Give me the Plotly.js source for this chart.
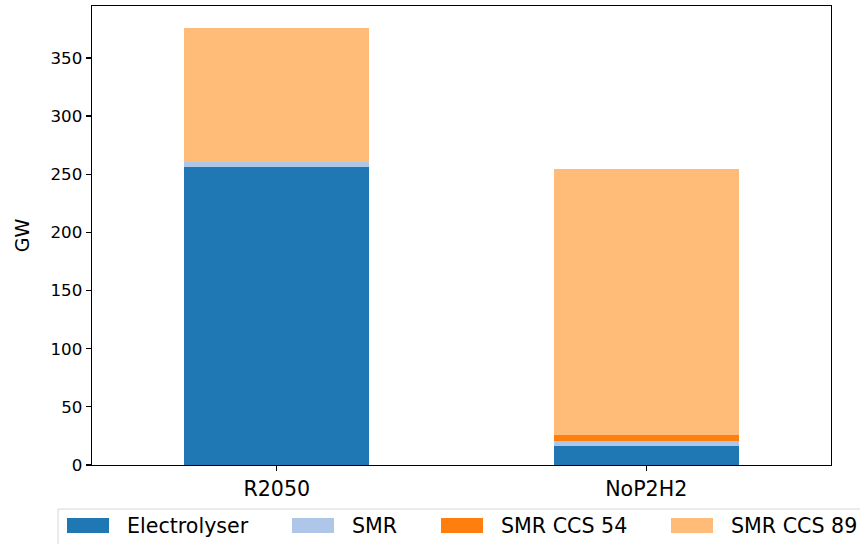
<!DOCTYPE html>
<html>
<head>
<meta charset="utf-8">
<script src="https://cdn.plot.ly/plotly-3.0.1.min.js"></script>
<style>
html,body{margin:0;padding:0;background:#fff;}
#chart{width:860px;height:544px;}
</style>
</head>
<body>
<div id="chart"></div>
<script>
// ---- data ----
const scenarios = ["R2050", "NoP2H2"];
const seriesNames = ["Electrolyser", "SMR", "SMR CCS 54", "SMR CCS 89"];
const electrolyser = [256.0, 16.6];
const smr = [4.8, 4.0];
const smrCcs54 = [0.0, 4.9];
const smrCcs89 = [115.0, 228.8];
const yTicks = [0, 50, 100, 150, 200, 250, 300, 350];

// ---- style ----
const colors = ["#1f77b4", "#aec7e8", "#ff7f0e", "#ffbb78"];
const seriesValues = [electrolyser, smr, smrCcs54, smrCcs89];
const FONT = "DejaVu Sans, sans-serif";

const W = 860, H = 544;
const M = {l: 92, r: 29, t: 6, b: 79};
const pw = W - M.l - M.r, ph = H - M.t - M.b;
const px2x = p => (p - M.l) / pw;
const py2y = p => (H - M.b - p) / ph;

const traces = seriesNames.map((name, i) => ({
  type: "bar",
  name: name,
  x: scenarios,
  y: seriesValues[i],
  width: 0.5,
  marker: {color: colors[i], line: {width: 0}},
  showlegend: false,
  hoverinfo: "x+y+name"
}));

// max of stacked totals for y range (5% headroom like matplotlib)
const totals = scenarios.map((_, j) => seriesValues.reduce((s, arr) => s + arr[j], 0));
const yMax = Math.max(...totals) * 1.05;

// custom legend (matplotlib-like)
const legendItemX = [67, 292, 441, 671]; // swatch left edges in px
const swatchW = 42, swatchTop = 518, swatchBot = 533, textGap = 16, legendMid = 525.5;
const shapes = [
  {type: "rect", xref: "paper", yref: "paper",
   x0: px2x(58), x1: px2x(880), y0: py2y(509), y1: py2y(560),
   line: {color: "#d6d6d6", width: 1}, fillcolor: "rgba(255,255,255,0.8)", layer: "above"}
];
const annotations = [];
seriesNames.forEach((name, i) => {
  shapes.push({type: "rect", xref: "paper", yref: "paper",
    x0: px2x(legendItemX[i]), x1: px2x(legendItemX[i] + swatchW),
    y0: py2y(swatchBot), y1: py2y(swatchTop),
    line: {width: 0}, fillcolor: colors[i], layer: "above"});
  annotations.push({xref: "paper", yref: "paper",
    x: px2x(legendItemX[i] + swatchW + textGap), y: py2y(legendMid),
    xanchor: "left", yanchor: "middle", showarrow: false,
    text: name, font: {family: FONT, size: 20.6, color: "#000"}});
});

const layout = {
  width: W, height: H,
  margin: {l: M.l, r: M.r, t: M.t, b: M.b, pad: 0},
  paper_bgcolor: "#fff", plot_bgcolor: "#fff",
  barmode: "stack",
  bargap: 0.5,
  showlegend: false,
  font: {family: FONT, color: "#000"},
  xaxis: {
    type: "category",
    range: [-0.5, 1.5],
    showline: true, mirror: true, linecolor: "#000", linewidth: 1.3,
    ticks: "outside", ticklen: 5, tickwidth: 1.3, tickcolor: "#000",
    showgrid: false, zeroline: false,
    tickfont: {family: FONT, size: 20.6, color: "#000"},
    fixedrange: true
  },
  yaxis: {
    range: [0, yMax],
    tickvals: yTicks,
    ticktext: yTicks.map(String),
    showline: true, mirror: true, linecolor: "#000", linewidth: 1.3,
    ticks: "outside", ticklen: 5, tickwidth: 1.3, tickcolor: "#000",
    showgrid: false, zeroline: false,
    tickfont: {family: FONT, size: 16.7, color: "#000"},
    title: {text: "GW", font: {family: FONT, size: 19, color: "#000"}, standoff: 16},
    automargin: false,
    fixedrange: true
  },
  shapes: shapes,
  annotations: annotations
};

Plotly.newPlot("chart", traces, layout, {displayModeBar: false, staticPlot: true});
</script>
</body>
</html>
